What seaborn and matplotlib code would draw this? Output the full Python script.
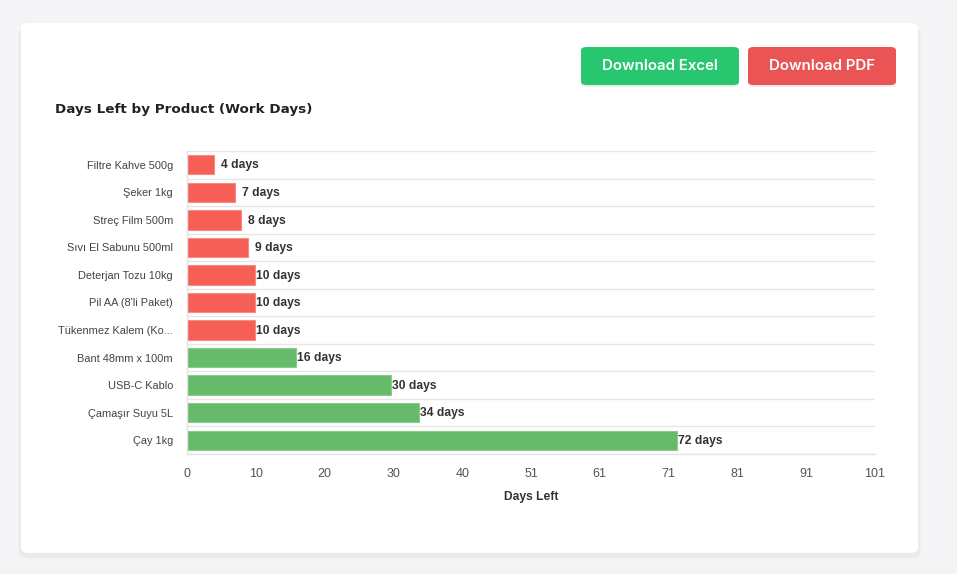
import numpy as np
import pandas as pd
import seaborn as sns
import matplotlib.pyplot as plt
from matplotlib.patches import FancyBboxPatch
from matplotlib.ticker import FixedLocator

# Data -----------------------------------------------------------------------
products = [
    'Filtre Kahve 500g', 'Şeker 1kg', 'Streç Film 500m', 'Sıvı El Sabunu 500ml',
    'Deterjan Tozu 10kg', "Pil AA (8'li Paket)", 'Tükenmez Kalem (Ko...',
    'Bant 48mm x 100m', 'USB-C Kablo', 'Çamaşır Suyu 5L', 'Çay 1kg'
]
days_left = [4, 7, 8, 9, 10, 10, 10, 16, 30, 34, 72]
status = ['low'] * 7 + ['ok'] * 4
x_max = 101

df = pd.DataFrame({'product': products, 'days': days_left, 'status': status})

sns.set_theme(style='white')
plt.rcParams['font.family'] = ['Liberation Sans', 'DejaVu Sans']

fig = plt.figure(figsize=(9.57, 5.74), dpi=100)
fig.patch.set_facecolor('#f4f4f6')

# Card with soft shadow ------------------------------------------------------
W, H = 957, 574
for (k, c) in enumerate(['#f0f0f2', '#ececef', '#e9e9ec']):
    d = 3 - k
    sh = FancyBboxPatch(((21 - d) / W, (H - 553 - 3 - d) / H), (897 + 2 * d) / W, 530 / H,
                        boxstyle='round,pad=0,rounding_size=0.01',
                        transform=fig.transFigure, fc=c, ec='none', zorder=-3)
    fig.patches.append(sh)
card = FancyBboxPatch((21 / W, (H - 553) / H), 897 / W, 530 / H,
                      boxstyle='round,pad=0,rounding_size=0.008',
                      transform=fig.transFigure, fc='white', ec='none', zorder=-2)
fig.patches.append(card)

# Buttons -------------------------------------------------------------------------
for (x0, x1, col, txt) in [(581, 739, '#28c76f', 'Download Excel'),
                           (748, 896, '#ea5455', 'Download PDF')]:
    bsh = FancyBboxPatch((x0 / W, (H - 87) / H), (x1 - x0) / W, 38 / H,
                         boxstyle='round,pad=0,rounding_size=0.006',
                         transform=fig.transFigure, fc='#ececee', ec='none', zorder=0.5)
    btn = FancyBboxPatch((x0 / W, (H - 85) / H), (x1 - x0) / W, 38 / H,
                         boxstyle='round,pad=0,rounding_size=0.006',
                         transform=fig.transFigure, fc=col, ec='none', zorder=1)
    fig.patches.extend([bsh, btn])
    fig.text((x0 + x1) / 2 / W, (H - 66) / H, txt, color='white', fontsize=10.8,
             fontweight='semibold', family=['Inter', 'DejaVu Sans'],
             ha='center', va='center')

fig.text(55 / W, (H - 109) / H, 'Days Left by Product (Work Days)', fontsize=9.7,
         fontweight='heavy', color='#222222', ha='left', va='center',
         family=['DejaVu Sans'])

# Chart --------------------------------------------------------------------------
ax = fig.add_axes([187 / W, (H - 454) / H, (875 - 187) / W, (454 - 151) / H])
ax.patch.set_alpha(0)
sns.barplot(data=df, y='product', x='days', hue='status', orient='h',
            palette={'low': '#f65f55', 'ok': '#66bb6a'}, dodge=False, width=0.7,
            saturation=1, legend=False, ax=ax, linewidth=0)
for (bar, st) in zip(ax.patches, status):
    bar.set_edgecolor('#f88a83' if st == 'low' else '#8bcb8e')
    bar.set_linewidth(0.8)

ax.set_xlim(0, x_max)
ax.set_ylim(len(products) - 0.5, -0.5)
ticks = np.linspace(0, x_max, 11)
ax.set_xticks(ticks)
ax.set_xticklabels([str(int(t + 0.5)) for t in ticks])
ax.yaxis.set_minor_locator(FixedLocator(np.arange(-0.5, len(products), 1)))
ax.grid(axis='y', which='minor', color='#e6e6e6', linewidth=1)
ax.grid(axis='y', which='major', visible=False)
ax.set_axisbelow(True)
for s in ['top', 'right']:
    ax.spines[s].set_visible(False)
for s in ['left', 'bottom']:
    ax.spines[s].set_color('#e3e3e3')
    ax.spines[s].set_linewidth(1)
ax.tick_params(axis='x', length=6, color='#e3e3e3', labelsize=9, labelcolor='#555555', pad=4)
ax.tick_params(axis='y', which='both', length=0, labelsize=7.9, labelcolor='#444444', pad=10)
ax.set_ylabel('')
ax.set_xlabel('Days Left', fontsize=8.7, fontweight='bold', color='#333333', labelpad=8)

for (i, v) in enumerate(days_left):
    off = 5 if v < 10 else 0.7
    ax.annotate('{} days'.format(v), (v, i), xytext=(off, -0.5), textcoords='offset points',
                ha='left', va='center', fontsize=8.7, fontweight='bold', color='#333333')

fig.savefig('out.png', dpi=100, facecolor=fig.get_facecolor())
